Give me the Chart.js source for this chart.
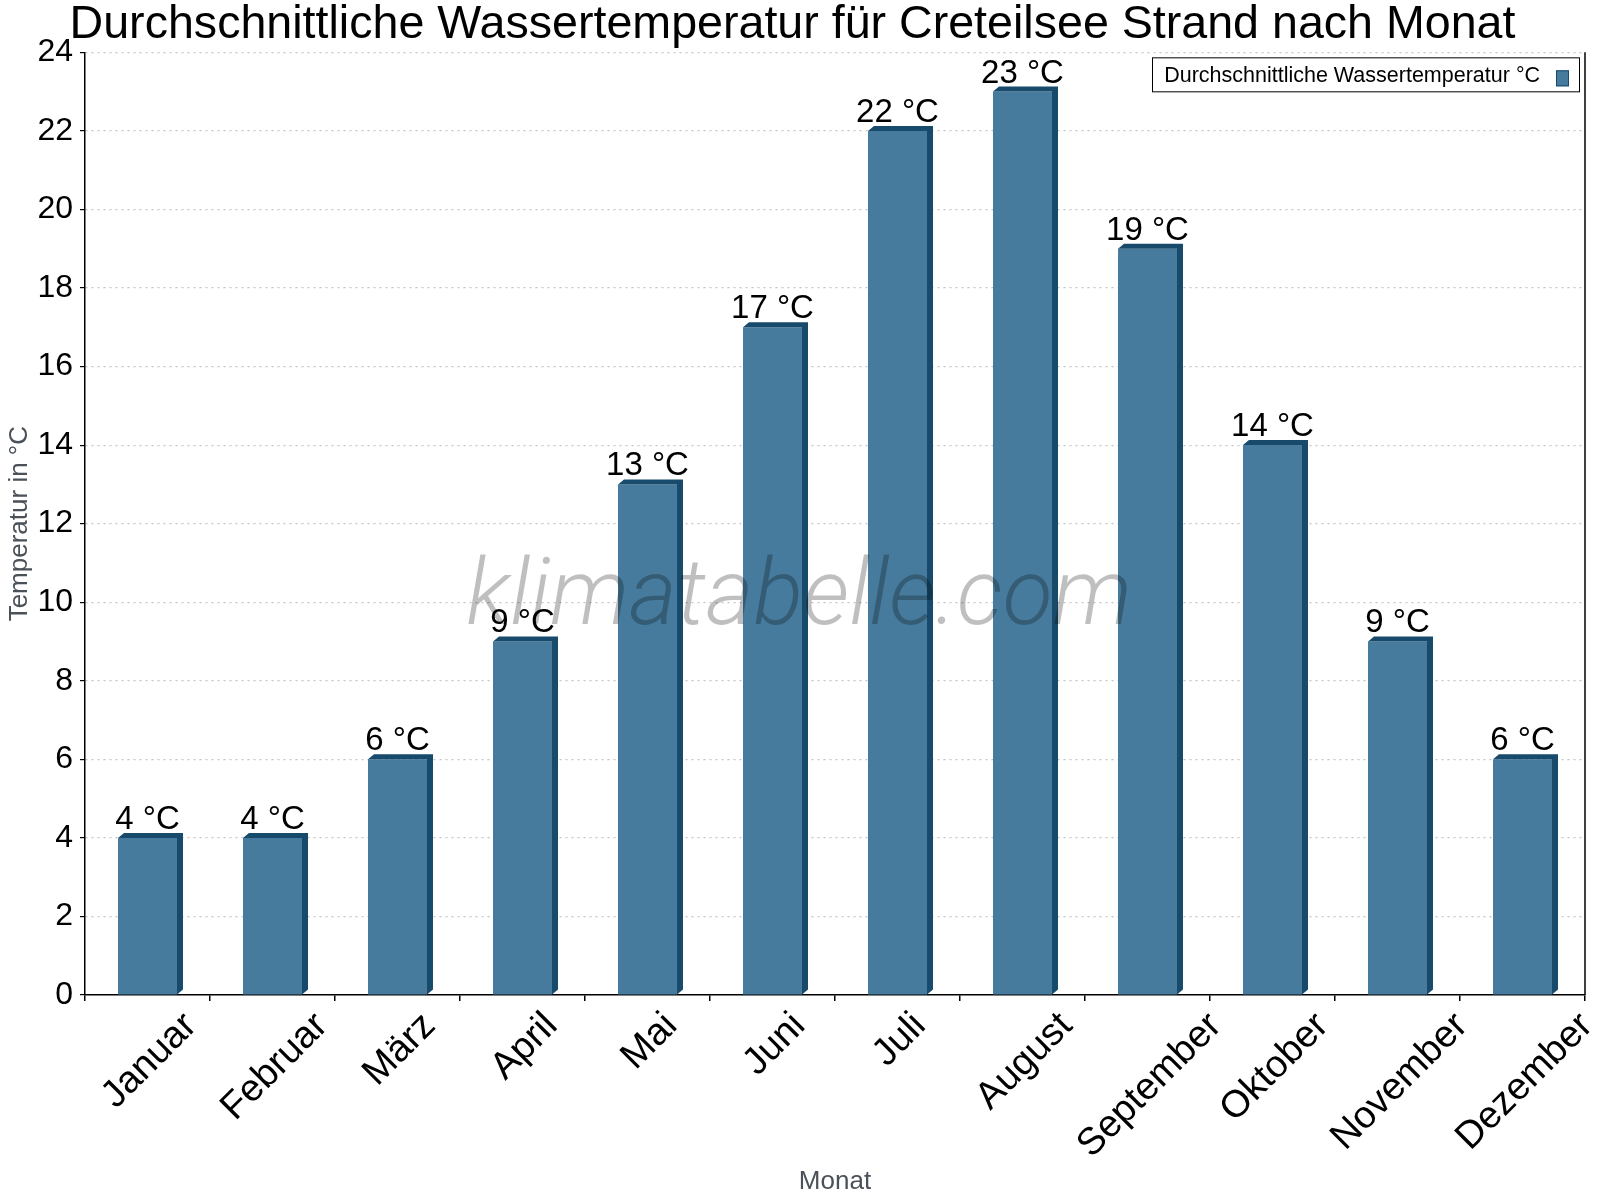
<!DOCTYPE html>
<html>
<head>
<meta charset="utf-8">
<script src="https://cdn.jsdelivr.net/npm/chart.js@4.4.0/dist/chart.umd.min.js"></script>
<style>
  html, body { margin: 0; padding: 0; background: #fff; }
</style>
</head>
<body>
<canvas id="chart" width="1600" height="1200"></canvas>
<script>
let months = ["Januar", "Februar", "März", "April", "Mai", "Juni", "Juli", "August", "September", "Oktober", "November", "Dezember"];
let temps = [4, 4, 6, 9, 13, 17, 22, 23, 19, 14, 9, 6];
let yMin = 0, yMax = 24, yStep = 2;
let seriesLabel = "Durchschnittliche Wassertemperatur °C";
let titleText = "Durchschnittliche Wassertemperatur für Creteilsee Strand nach Monat";
let unit = "°C";

const FONT = "'Liberation Sans', Arial, sans-serif";
const FRONT = "#467b9d";
const DARK = "#174a6b";
const DX = 6, DY = 5;

/* 3D top + side of each bar, watermark, value labels */
const bar3d = {
  id: "bar3d",
  afterDatasetsDraw(chart) {
    let ctx = chart.ctx;
    let meta = chart.getDatasetMeta(0);
    ctx.save();
    ctx.fillStyle = DARK;
    meta.data.forEach(b => {
      let x1 = b.x - b.width / 2, x2 = b.x + b.width / 2;
      let y = b.y, base = b.base;
      ctx.beginPath();
      ctx.moveTo(x1, y);
      ctx.lineTo(x1 + DX, y - DY);
      ctx.lineTo(x2 + DX, y - DY);
      ctx.lineTo(x2 + DX, base - DY);
      ctx.lineTo(x2, base);
      ctx.lineTo(x2, y);
      ctx.closePath();
      ctx.fill();
    });

    // watermark
    ctx.font = "italic 300 92px Roboto, Lato, sans-serif";
    ctx.fillStyle = "rgba(0,0,0,0.25)";
    ctx.textAlign = "center";
    ctx.textBaseline = "alphabetic";
    ctx.fillText("klimatabelle.com", 799, 624);

    // value labels
    ctx.font = "33px " + FONT;
    ctx.fillStyle = "#000";
    meta.data.forEach((b, i) => {
      ctx.fillText(temps[i] + " " + unit, b.x, b.y - 9);
    });
    ctx.restore();
  }
};

/* rotated month labels, right border, legend */
const extras = {
  id: "extras",
  afterDraw(chart) {
    let ctx = chart.ctx;
    let a = chart.chartArea;
    let xs = chart.scales.x;
    ctx.save();

    ctx.strokeStyle = "#000";
    ctx.lineWidth = 1.5;
    ctx.beginPath();
    ctx.moveTo(a.right, a.top);
    ctx.lineTo(a.right, a.bottom);
    ctx.stroke();

    let fs = 38;
    ctx.font = fs + "px " + FONT;
    ctx.fillStyle = "#000";
    ctx.textAlign = "center";
    ctx.textBaseline = "alphabetic";
    months.forEach((m, i) => {
      let x = xs.getPixelForValue(i);
      let w = ctx.measureText(m).width;
      let half = (w + fs * 0.72) * Math.SQRT1_2 / 2;
      ctx.save();
      ctx.translate(x, a.bottom + 13 + half);
      ctx.rotate(-Math.PI / 4);
      ctx.fillText(m, 0, fs * 0.36);
      ctx.restore();
    });

    // legend
    ctx.font = "21.5px " + FONT;
    ctx.textAlign = "left";
    let tw = ctx.measureText(seriesLabel).width;
    let bw = 12 + tw + 16 + 13 + 10;
    let bx = a.right - 6 - bw, by = a.top + 5;
    ctx.fillStyle = "#fff";
    ctx.fillRect(bx, by, bw, 34);
    ctx.lineWidth = 1;
    ctx.strokeStyle = "#000";
    ctx.strokeRect(Math.round(bx) + 0.5, by + 0.5, Math.round(bw), 34);
    ctx.fillStyle = "#000";
    ctx.fillText(seriesLabel, bx + 12, by + 25);
    ctx.fillStyle = FRONT;
    ctx.fillRect(bx + bw - 23, by + 13, 13, 16);
    ctx.strokeStyle = DARK;
    ctx.strokeRect(bx + bw - 22.5, by + 13.5, 12, 15);
    ctx.restore();
  }
};

new Chart(document.getElementById("chart"), {
  type: "bar",
  data: {
    labels: months,
    datasets: [{
      label: seriesLabel,
      data: temps,
      backgroundColor: FRONT,
      borderWidth: 0,
      barPercentage: 0.472,
      categoryPercentage: 1
    }]
  },
  options: {
    responsive: false,
    animation: false,
    layout: { padding: { top: 0, right: 15, bottom: 0, left: 0 } },
    plugins: {
      legend: { display: false },
      tooltip: { enabled: false },
      title: {
        display: true,
        text: titleText,
        color: "#000",
        font: { family: FONT, size: 46.6, weight: "normal", lineHeight: 1.08 },
        padding: { top: 0, bottom: 2 }
      }
    },
    scales: {
      x: {
        offset: true,
        grid: { offset: true, drawOnChartArea: false, drawTicks: true, tickLength: 6, color: "#000", lineWidth: 1.5 },
        border: { display: true, color: "#000", width: 1.5 },
        ticks: { display: false },
        title: {
          display: true, text: "Monat", color: "#4b5158",
          font: { family: FONT, size: 26 }, padding: { top: 0, bottom: 3 }
        },
        afterFit(s) { s.height = 205; }
      },
      y: {
        min: yMin, max: yMax,
        ticks: { stepSize: yStep, color: "#000", font: { family: FONT, size: 32 }, padding: 7 },
        grid: {
          color: c => c.tick && c.tick.value === 0 ? "rgba(0,0,0,0)" : "#c4c4c4",
          tickColor: "#000",
          tickLength: 5,
          lineWidth: 1.2
        },
        border: { display: true, color: "#000", width: 1.5, dash: [2, 4] },
        title: {
          display: true, text: "Temperatur in " + unit, color: "#4b5158",
          font: { family: FONT, size: 26 }, padding: { top: 4, bottom: 0 }
        },
        afterFit(s) { s.width = 85; }
      }
    }
  },
  plugins: [bar3d, extras]
});
</script>
</body>
</html>
